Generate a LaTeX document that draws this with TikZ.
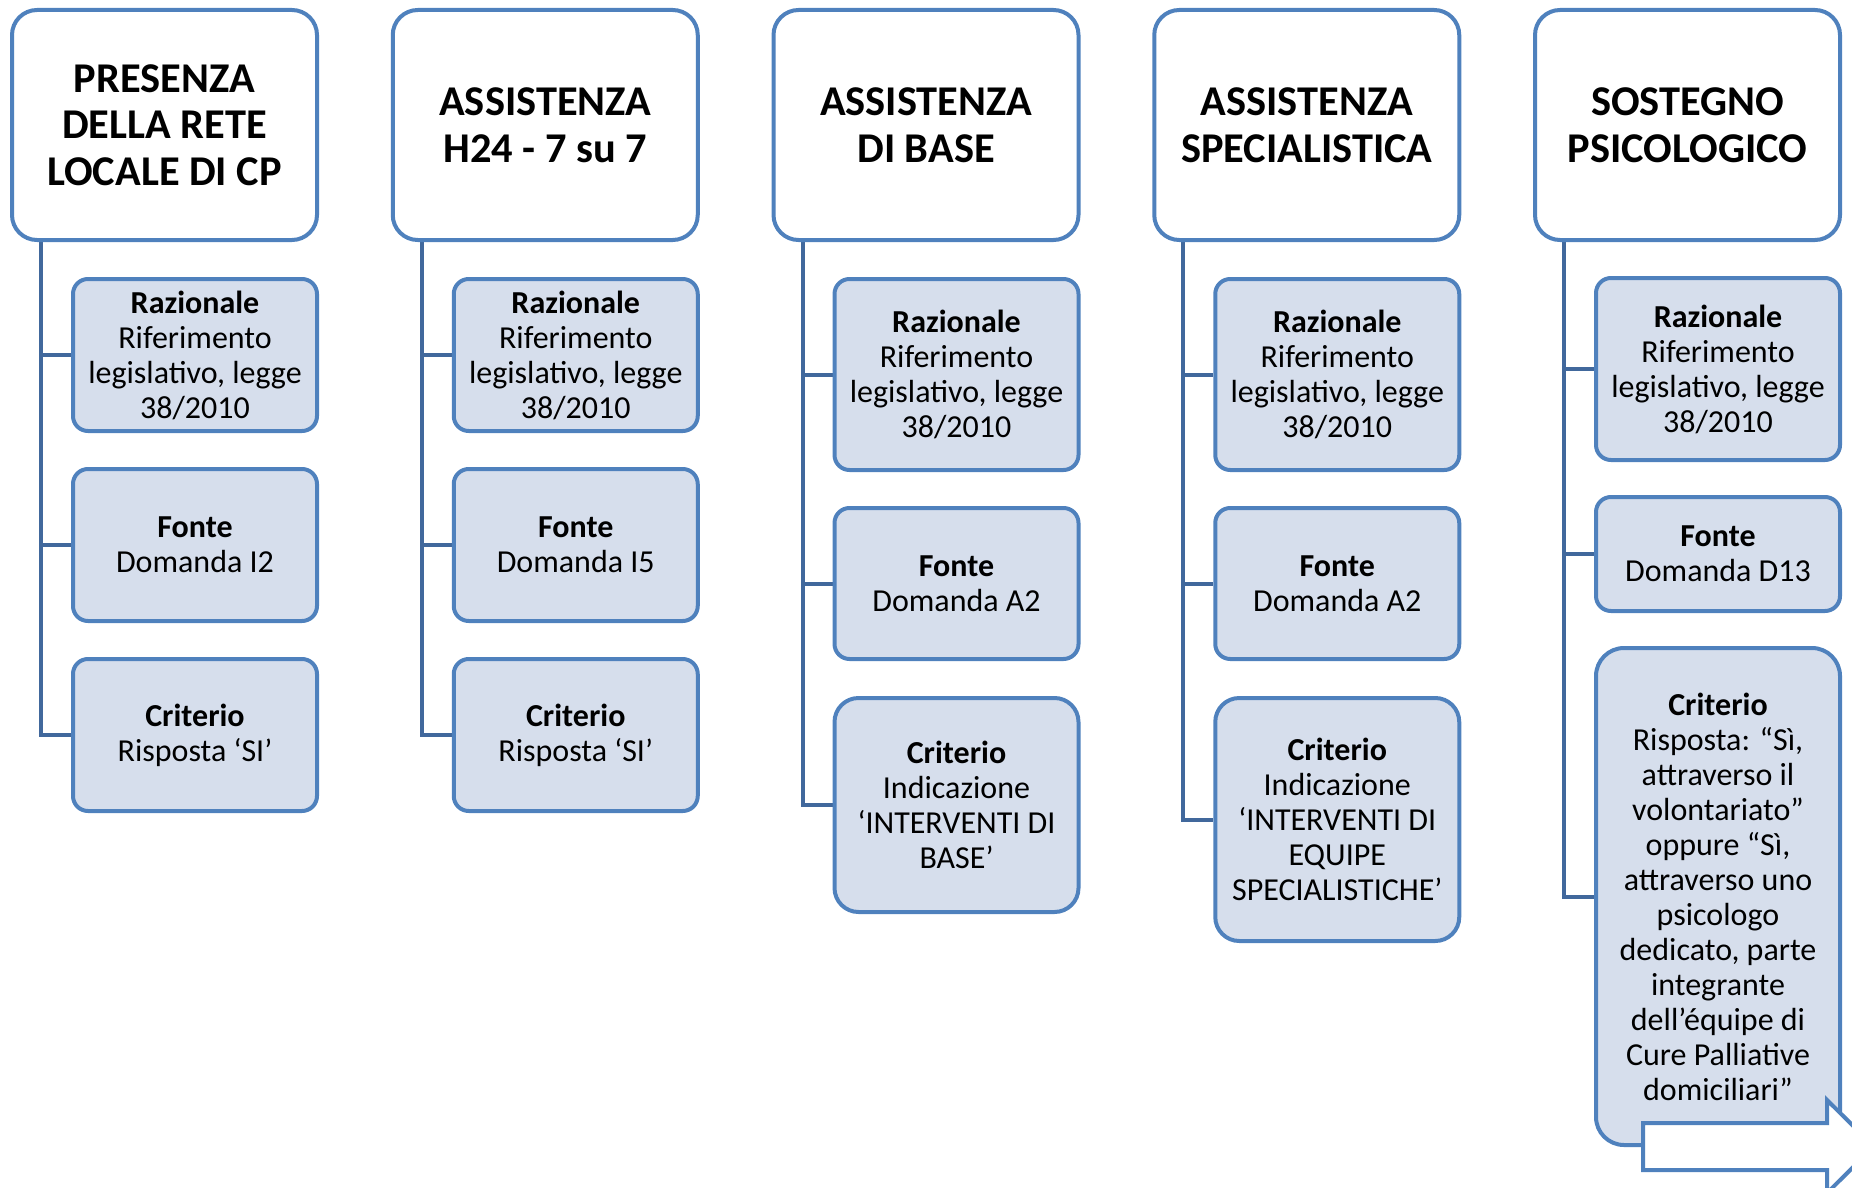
\documentclass[tikz,border=0pt]{standalone}
\usepackage{fontspec}
\setmainfont{Carlito}
\usetikzlibrary{backgrounds}

\definecolor{boxline}{RGB}{79,129,189}
\definecolor{boxfill}{RGB}{214,222,236}
\definecolor{linkcol}{RGB}{65,104,156}

\newcommand\HdFont{\fontsize{21.2}{23.3}\selectfont\bfseries}
\newcommand\ItmFont{\fontsize{16}{17.5}\selectfont}

\tikzset{
  headbox/.style={draw=boxline, line width=2pt, fill=white, rounded corners=12.5pt,
    minimum width=152.5pt, minimum height=115pt, inner sep=0pt, align=center, font=\HdFont},
  itembox/.style={draw=boxline, line width=2pt, fill=boxfill, rounded corners=7.5pt,
    minimum width=122pt, inner sep=0pt, align=center, font=\ItmFont},
  link/.style={draw=linkcol, line width=2pt},
  nextarrow/.style={draw=boxline, line width=2pt, fill=white, line join=miter}
}

\begin{document}
\begin{tikzpicture}[x=0.5pt, y=-0.5pt]
\useasboundingbox (0,0) rectangle (1852,1188);

% column 1
\node[headbox] (h1) at (164.5,125) {PRESENZA\\DELLA RETE\\LOCALE DI CP};
\node[itembox, minimum height=76pt] (a1) at (195,355) {\textbf{Razionale}\\Riferimento\\legislativo, legge\\38/2010};
\node[itembox, minimum height=76pt] (b1) at (195,545) {\textbf{Fonte}\\Domanda I2};
\node[itembox, minimum height=76pt] (c1) at (195,735) {\textbf{Criterio}\\Risposta ‘SI’};

% column 2
\node[headbox] (h2) at (545.25,125) {ASSISTENZA\\H24 - 7 su 7};
\node[itembox, minimum height=76pt] (a2) at (575.75,355) {\textbf{Razionale}\\Riferimento\\legislativo, legge\\38/2010};
\node[itembox, minimum height=76pt] (b2) at (575.75,545) {\textbf{Fonte}\\Domanda I5};
\node[itembox, minimum height=76pt] (c2) at (575.75,735) {\textbf{Criterio}\\Risposta ‘SI’};

% column 3
\node[headbox] (h3) at (926,125) {ASSISTENZA\\DI BASE};
\node[itembox, minimum height=95.5pt] (a3) at (956.5,374.5) {\textbf{Razionale}\\Riferimento\\legislativo, legge\\38/2010};
\node[itembox, minimum height=75.5pt] (b3) at (956.5,583.5) {\textbf{Fonte}\\Domanda A2};
\node[itembox, minimum height=107pt, rounded corners=12pt] (c3) at (956.5,805) {\textbf{Criterio}\\Indicazione\\‘INTERVENTI DI\\BASE’};

% column 4
\node[headbox] (h4) at (1306.75,125) {ASSISTENZA\\SPECIALISTICA};
\node[itembox, minimum height=95.5pt] (a4) at (1337.25,374.5) {\textbf{Razionale}\\Riferimento\\legislativo, legge\\38/2010};
\node[itembox, minimum height=75.5pt] (b4) at (1337.25,583.5) {\textbf{Fonte}\\Domanda A2};
\node[itembox, minimum height=121.5pt, rounded corners=12pt] (c4) at (1337.25,819.5) {\textbf{Criterio}\\Indicazione\\‘INTERVENTI DI\\EQUIPE\\SPECIALISTICHE’};

% column 5
\node[headbox] (h5) at (1687.5,125) {SOSTEGNO\\PSICOLOGICO};
\node[itembox, minimum height=91pt] (a5) at (1718,369) {\textbf{Razionale}\\Riferimento\\legislativo, legge\\38/2010};
\node[itembox, minimum height=57pt] (b5) at (1718,554) {\textbf{Fonte}\\Domanda D13};
\node[itembox, minimum height=248.5pt, rounded corners=14pt] (c5) at (1718,896.5) {\textbf{Criterio}\\Risposta: “Sì,\\attraverso il\\volontariato”\\oppure “Sì,\\attraverso uno\\psicologo\\dedicato, parte\\integrante\\dell’équipe di\\Cure Palliative\\domiciliari”};

% tree connectors, behind the boxes
\begin{pgfonlayer}{background}
\foreach \h/\a/\b/\c in {h1/a1/b1/c1, h2/a2/b2/c2, h3/a3/b3/c3, h4/a4/b4/c4, h5/a5/b5/c5} {
  \draw[link] ([xshift=15.5pt]\h.south west) |- (\a.west);
  \draw[link] ([xshift=15.5pt]\h.south west) |- (\b.west);
  \draw[link] ([xshift=15.5pt]\h.south west) |- (\c.west);
}
\end{pgfonlayer}

% block arrow leading on, cut by the page edge
\begin{scope}
\clip (0,0) rectangle (1852,1188);
\draw[nextarrow] (1643,1123) -- (1827,1123) -- (1827,1100) -- (1874,1146.5)
  -- (1827,1193) -- (1827,1170) -- (1643,1170) -- cycle;
\end{scope}
\end{tikzpicture}
\end{document}
